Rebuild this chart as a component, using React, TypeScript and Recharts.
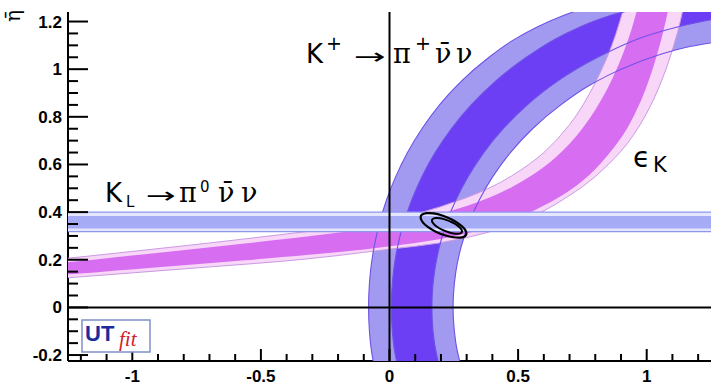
import React from 'react';
import { ComposedChart, XAxis, YAxis, Scatter } from 'recharts';

type Pt = { x: number; y: number };

// ---------- axis ticks ----------
const xLabelTicks = [-1, -0.5, 0, 0.5, 1];
const xMinorTicks = [-1.2, -1.1, -0.9, -0.8, -0.7, -0.6, -0.4, -0.3, -0.2, -0.1, 0.1, 0.2, 0.3, 0.4, 0.6, 0.7, 0.8, 0.9, 1.1, 1.2];
const yLabelTicks = [-0.2, 0, 0.2, 0.4, 0.6, 0.8, 1, 1.2];
const yMinorTicks = [-0.15, -0.1, -0.05, 0.05, 0.1, 0.15, 0.25, 0.3, 0.35, 0.45, 0.5, 0.55, 0.65, 0.7, 0.75, 0.85, 0.9, 0.95, 1.05, 1.1, 1.15];
const X_DOMAIN: [number, number] = [-1.25, 1.25];
const Y_DOMAIN: [number, number] = [-0.225, 1.24];

// ---------- K+ -> pi+ nu nu band (boundaries) ----------
const kpOuterLeft: Pt[] = [
  { x: -0.04, y: -0.35 }, { x: -0.069, y: -0.2 }, { x: -0.079, y: -0.1 }, { x: -0.082, y: 0 },
  { x: -0.079, y: 0.1 }, { x: -0.069, y: 0.2 }, { x: -0.052, y: 0.3 }, { x: -0.028, y: 0.4 },
  { x: 0.004, y: 0.5 }, { x: 0.045, y: 0.6 }, { x: 0.095, y: 0.7 }, { x: 0.157, y: 0.8 },
  { x: 0.232, y: 0.9 }, { x: 0.327, y: 1.0 }, { x: 0.447, y: 1.1 }, { x: 0.524, y: 1.15 },
  { x: 0.617, y: 1.2 }, { x: 0.735, y: 1.25 }, { x: 0.9, y: 1.3 },
];
const kpOuterRight: Pt[] = [
  { x: 1.466, y: 1.13 }, { x: 1.305, y: 1.12 }, { x: 1.187, y: 1.1 }, { x: 1.107, y: 1.08 },
  { x: 1.015, y: 1.05 }, { x: 0.898, y: 1.0 }, { x: 0.805, y: 0.95 }, { x: 0.728, y: 0.9 },
  { x: 0.604, y: 0.8 }, { x: 0.508, y: 0.7 }, { x: 0.432, y: 0.6 }, { x: 0.372, y: 0.5 },
  { x: 0.325, y: 0.4 }, { x: 0.29, y: 0.3 }, { x: 0.265, y: 0.2 }, { x: 0.251, y: 0.1 },
  { x: 0.246, y: 0 }, { x: 0.251, y: -0.1 }, { x: 0.265, y: -0.2 }, { x: 0.306, y: -0.35 },
];
const kpInnerLeft: Pt[] = [
  { x: 0.053, y: -0.35 }, { x: 0.021, y: -0.2 }, { x: 0.01, y: -0.1 }, { x: 0.006, y: 0 },
  { x: 0.01, y: 0.1 }, { x: 0.021, y: 0.2 }, { x: 0.04, y: 0.3 }, { x: 0.068, y: 0.4 },
  { x: 0.104, y: 0.5 }, { x: 0.149, y: 0.6 }, { x: 0.206, y: 0.7 }, { x: 0.275, y: 0.8 },
  { x: 0.36, y: 0.9 }, { x: 0.465, y: 1.0 }, { x: 0.599, y: 1.1 }, { x: 0.684, y: 1.15 },
  { x: 0.788, y: 1.2 }, { x: 0.927, y: 1.25 }, { x: 1.276, y: 1.3 },
];
const kpInnerRight: Pt[] = [
  { x: 1.494, y: 1.23 }, { x: 1.325, y: 1.22 }, { x: 1.202, y: 1.2 }, { x: 1.022, y: 1.15 },
  { x: 0.899, y: 1.1 }, { x: 0.72, y: 1.0 }, { x: 0.587, y: 0.9 }, { x: 0.484, y: 0.8 },
  { x: 0.4, y: 0.7 }, { x: 0.333, y: 0.6 }, { x: 0.279, y: 0.5 }, { x: 0.236, y: 0.4 },
  { x: 0.204, y: 0.3 }, { x: 0.182, y: 0.2 }, { x: 0.168, y: 0.1 }, { x: 0.164, y: 0 },
  { x: 0.168, y: -0.1 }, { x: 0.182, y: -0.2 }, { x: 0.219, y: -0.35 },
];
const kpCorner: Pt[] = [{ x: 1.6, y: 1.3 }];

// ---------- epsilon_K band ----------
const ekOuterTop: Pt[] = [
  { x: -1.4, y: 0.192 }, { x: -1.25, y: 0.206 }, { x: -1.0, y: 0.235 }, { x: -0.7, y: 0.27 },
  { x: -0.426, y: 0.305 }, { x: -0.2, y: 0.334 }, { x: 0, y: 0.362 }, { x: 0.2, y: 0.42 },
  { x: 0.4, y: 0.502 }, { x: 0.55, y: 0.602 }, { x: 0.65, y: 0.698 }, { x: 0.75, y: 0.836 },
  { x: 0.85, y: 1.05 }, { x: 0.908, y: 1.238 }, { x: 0.95, y: 1.427 }, { x: 1.0, y: 1.7 },
];
const ekInnerTop: Pt[] = [
  { x: -1.4, y: 0.175 }, { x: -1.25, y: 0.189 }, { x: -1.0, y: 0.218 }, { x: -0.7, y: 0.252 },
  { x: -0.426, y: 0.285 }, { x: -0.2, y: 0.313 }, { x: 0, y: 0.34 }, { x: 0.2, y: 0.39 },
  { x: 0.4, y: 0.461 }, { x: 0.55, y: 0.548 }, { x: 0.65, y: 0.63 }, { x: 0.752, y: 0.747 },
  { x: 0.85, y: 0.915 }, { x: 0.92, y: 1.094 }, { x: 0.961, y: 1.238 }, { x: 1.0, y: 1.417 },
  { x: 1.05, y: 1.7 },
];
const ekInnerBottom: Pt[] = [
  { x: -1.4, y: 0.131 }, { x: -1.25, y: 0.138 }, { x: -1.0, y: 0.16 }, { x: -0.7, y: 0.185 },
  { x: -0.426, y: 0.21 }, { x: -0.2, y: 0.232 }, { x: 0, y: 0.255 }, { x: 0.2, y: 0.285 },
  { x: 0.4, y: 0.336 }, { x: 0.55, y: 0.396 }, { x: 0.7, y: 0.486 }, { x: 0.8, y: 0.575 },
  { x: 0.9, y: 0.707 }, { x: 0.95, y: 0.8 }, { x: 1.0, y: 0.923 }, { x: 1.05, y: 1.092 },
  { x: 1.082, y: 1.238 }, { x: 1.1, y: 1.339 }, { x: 1.15, y: 1.7 },
];
const ekOuterBottom: Pt[] = [
  { x: -1.4, y: 0.117 }, { x: -1.25, y: 0.124 }, { x: -1.0, y: 0.145 }, { x: -0.7, y: 0.17 },
  { x: -0.426, y: 0.192 }, { x: -0.2, y: 0.217 }, { x: 0, y: 0.245 }, { x: 0.2, y: 0.268 },
  { x: 0.4, y: 0.318 }, { x: 0.55, y: 0.372 }, { x: 0.7, y: 0.468 }, { x: 0.8, y: 0.545 },
  { x: 0.9, y: 0.653 }, { x: 0.95, y: 0.724 }, { x: 1.0, y: 0.812 }, { x: 1.05, y: 0.925 },
  { x: 1.1, y: 1.075 }, { x: 1.14, y: 1.234 }, { x: 1.2, y: 1.587 },
];

// ---------- K_L -> pi0 nu nu band ----------
const klOuter = { low: 0.318, high: 0.4 };
const klInner = { low: 0.331, high: 0.384 };
const klSpan = { from: -1.4, to: 1.4 };

// ---------- fit contours ----------
const fitOuter: Pt[] = [
  { x: 0.3, y: 0.305 }, { x: 0.288, y: 0.294 }, { x: 0.264, y: 0.292 }, { x: 0.233, y: 0.297 },
  { x: 0.197, y: 0.309 }, { x: 0.163, y: 0.327 }, { x: 0.137, y: 0.347 }, { x: 0.122, y: 0.367 },
  { x: 0.12, y: 0.384 }, { x: 0.132, y: 0.394 }, { x: 0.156, y: 0.397 }, { x: 0.187, y: 0.392 },
  { x: 0.223, y: 0.379 }, { x: 0.257, y: 0.361 }, { x: 0.283, y: 0.341 }, { x: 0.298, y: 0.321 },
];
const fitInner: Pt[] = [
  { x: 0.283, y: 0.316 }, { x: 0.276, y: 0.31 }, { x: 0.26, y: 0.308 }, { x: 0.239, y: 0.312 },
  { x: 0.215, y: 0.321 }, { x: 0.193, y: 0.332 }, { x: 0.176, y: 0.345 }, { x: 0.166, y: 0.358 },
  { x: 0.164, y: 0.368 }, { x: 0.172, y: 0.374 }, { x: 0.187, y: 0.376 }, { x: 0.208, y: 0.372 },
  { x: 0.232, y: 0.363 }, { x: 0.254, y: 0.352 }, { x: 0.271, y: 0.339 }, { x: 0.281, y: 0.326 },
];

// ---------- derived tables for the library ----------
const kpLightPoly = [...kpOuterLeft, ...kpCorner, ...kpOuterRight];
const kpDarkPoly = [...kpInnerLeft, ...kpCorner, ...kpInnerRight];
const ekLightPoly = [...ekOuterTop, ...[...ekOuterBottom].reverse()];
const ekDarkPoly = [...ekInnerTop, ...[...ekInnerBottom].reverse()];
const rect = (b: { low: number; high: number }): Pt[] => [
  { x: klSpan.from, y: b.low }, { x: klSpan.to, y: b.low },
  { x: klSpan.to, y: b.high }, { x: klSpan.from, y: b.high },
];
const klOuterPoly = rect(klOuter);
const klInnerPoly = rect(klInner);
const axisAnchors: Pt[] = [{ x: -1.4, y: -0.4 }, { x: 1.4, y: 1.4 }];
const xAllTicks = [...xLabelTicks, ...xMinorTicks].sort((a, b) => a - b);
const yAllTicks = [...yLabelTicks, ...yMinorTicks].sort((a, b) => a - b);

// ---------- path helpers (pixel points come from the chart scales) ----------
const smoothClosed = (pts: Pt[]) => {
  const n = pts.length;
  const mid = (a: Pt, b: Pt) => `${(a.x + b.x) / 2},${(a.y + b.y) / 2}`;
  let d = `M${mid(pts[n - 1], pts[0])}`;
  for (let i = 0; i < n; i++) {
    const p = pts[i];
    const q = pts[(i + 1) % n];
    d += `Q${p.x},${p.y} ${mid(p, q)}`;
  }
  return d + 'Z';
};
const linear = (pts: Pt[], closed: boolean) =>
  'M' + pts.map((p) => `${p.x},${p.y}`).join('L') + (closed ? 'Z' : '');

const split = (pts: Pt[], parts: Pt[][]) => {
  const out: Pt[][] = [];
  let i = 0;
  parts.forEach((part) => {
    out.push(pts.slice(i, i + part.length));
    i += part.length;
  });
  return out;
};

const renderOverlay = (pix: Pt[][]) => {
  const [anc, fo, fi] = pix;
  const [a, b] = anc;
  const sx = (b.x - a.x) / (axisAnchors[1].x - axisAnchors[0].x);
  const sy = (b.y - a.y) / (axisAnchors[1].y - axisAnchors[0].y);
  const X = (v: number) => a.x + (v - axisAnchors[0].x) * sx;
  const Y = (v: number) => a.y + (v - axisAnchors[0].y) * sy;
  const k = { stroke: '#000', strokeWidth: 2 };
  return (
    <g>
      <line x1={X(0)} x2={X(0)} y1={a.y} y2={b.y} {...k} />
      <line x1={a.x} x2={b.x} y1={Y(0)} y2={Y(0)} {...k} />
      <path d={smoothClosed(fo)} fill="none" stroke="#000" strokeWidth={2.2} />
      <path d={smoothClosed(fi)} fill="none" stroke="#000" strokeWidth={2} />
    </g>
  );
};

const noShape = () => <g />;

const layer = (id: string, parts: Pt[][], render: (pix: Pt[][]) => React.ReactElement) => (
  <Scatter
    key={id}
    name={id}
    data={parts.flat()}
    shape={noShape}
    isAnimationActive={false}
    legendType="none"
    line={(lp: any) => render(split(lp.points as Pt[], parts))}
  />
);

const SANS = '"DejaVu Sans", sans-serif';
const SERIF = '"DejaVu Serif", serif';
const TICK_FONT = '"Liberation Sans", Arial, sans-serif';
const X_TICK_MARGIN = 9;
const Y_TICK_MARGIN = 6;

const XTick = (props: any) => {
  const { x, y, payload } = props;
  const v = payload.value as number;
  const major = xLabelTicks.includes(v);
  const axisY = y - X_TICK_MARGIN;
  return (
    <g>
      <line x1={x} x2={x} y1={axisY} y2={axisY - (major ? 12 : 7)} stroke="#000" strokeWidth={2} />
      {major && (
        <text x={x} y={y} dy="0.71em" textAnchor="middle" fill="#000" fontSize={17} fontWeight={700} fontFamily={TICK_FONT}>
          {String(v)}
        </text>
      )}
    </g>
  );
};

const YTick = (props: any) => {
  const { x, y, payload } = props;
  const v = payload.value as number;
  const major = yLabelTicks.includes(v);
  const axisX = x + Y_TICK_MARGIN;
  return (
    <g>
      <line x1={axisX} x2={axisX + (major ? 20 : 10)} y1={y} y2={y} stroke="#000" strokeWidth={2} />
      {major && (
        <text x={x} y={y} dy="0.355em" textAnchor="end" fill="#000" fontSize={17} fontWeight={700} fontFamily={TICK_FONT}>
          {String(v)}
        </text>
      )}
    </g>
  );
};

const frameLine = { stroke: '#000', strokeWidth: 2 };

export default function App() {
  return (
    <div style={{ position: 'absolute', left: 0, top: 0, width: 712, height: 386, background: '#fff' }}>
      <ComposedChart width={712} height={386} margin={{ top: 12, right: 1, bottom: 0, left: 0 }}>
        {layer('kpLight', [kpLightPoly], ([p]) => <path d={smoothClosed(p)} fill="#a29af1" stroke="none" />)}
        {layer('kpDark', [kpDarkPoly], ([p]) => <path d={smoothClosed(p)} fill="#6d3ff4" stroke="none" />)}
        {layer('ekLight', [ekLightPoly], ([p]) => <path d={smoothClosed(p)} fill="#f7d6f7" stroke="#c99be4" strokeWidth={1} />)}
        {layer('ekDark', [ekDarkPoly], ([p]) => <path d={smoothClosed(p)} fill="#d76df1" stroke="none" />)}
        {layer('kpLines', [kpLightPoly, kpDarkPoly], ([o, i]) => (
          <g>
            <path d={smoothClosed(o)} fill="none" stroke="#6f52e6" strokeWidth={1.1} />
            <path d={smoothClosed(i)} fill="none" stroke="#6f52e6" strokeWidth={1.1} />
          </g>
        ))}
        {layer('klBand', [klOuterPoly, klInnerPoly], ([o, i]) => (
          <g>
            <path d={linear(o, true)} fill="#e3e6fd" stroke="#8e96ee" strokeWidth={1.3} />
            <path d={linear(i, true)} fill="#a5abf5" stroke="none" />
          </g>
        ))}
        {layer('overlay', [axisAnchors, fitOuter, fitInner], renderOverlay)}
        <XAxis
          type="number"
          dataKey="x"
          domain={X_DOMAIN}
          allowDataOverflow
          ticks={xAllTicks}
          interval={0}
          tickLine={false}
          axisLine={frameLine}
          tickSize={0}
          tickMargin={X_TICK_MARGIN}
          height={25}
          tick={<XTick />}
        />
        <YAxis
          type="number"
          dataKey="y"
          domain={Y_DOMAIN}
          allowDataOverflow
          ticks={yAllTicks}
          interval={0}
          tickLine={false}
          axisLine={frameLine}
          tickSize={0}
          tickMargin={Y_TICK_MARGIN}
          width={68}
          tick={<YTick />}
        />
        <XAxis
          xAxisId="top"
          orientation="top"
          type="number"
          domain={X_DOMAIN}
          allowDataOverflow
          height={0}
          tick={false}
          tickLine={false}
          axisLine={frameLine}
        />
        <YAxis
          yAxisId="right"
          orientation="right"
          type="number"
          domain={Y_DOMAIN}
          allowDataOverflow
          width={0}
          tick={false}
          tickLine={false}
          axisLine={frameLine}
        />
      </ComposedChart>
      <svg width={712} height={386} style={{ position: 'absolute', left: 0, top: 0, pointerEvents: 'none' }}>
        <text transform="translate(20,16) rotate(-90)" textAnchor="middle" fontSize={20} fontFamily={SERIF}>η̄</text>

        <text x={306} y={63} fontSize={26} fontFamily={SANS}>K</text>
        <text x={326} y={50} fontSize={19} fontFamily={SANS}>+</text>
        <text x={354} y={64} fontSize={22} fontFamily={SANS} textLength={32} lengthAdjust="spacingAndGlyphs">→</text>
        <text x={393} y={63} fontSize={27} fontFamily={SERIF}>π</text>
        <text x={415} y={50} fontSize={19} fontFamily={SANS}>+</text>
        <text x={435} y={63} fontSize={27} fontFamily={SERIF}>ν̄</text>
        <text x={456} y={63} fontSize={27} fontFamily={SERIF}>ν</text>

        <text x={105} y={202} fontSize={26} fontFamily={SANS}>K</text>
        <text x={126} y={207} fontSize={15} fontFamily={SANS}>L</text>
        <text x={146} y={203} fontSize={22} fontFamily={SANS} textLength={30} lengthAdjust="spacingAndGlyphs">→</text>
        <text x={179} y={202} fontSize={27} fontFamily={SERIF}>π</text>
        <text x={200} y={192} fontSize={15} fontFamily={SANS}>0</text>
        <text x={218} y={202} fontSize={27} fontFamily={SERIF}>ν̄</text>
        <text x={241} y={202} fontSize={27} fontFamily={SERIF}>ν</text>

        <text x={633} y={167} fontSize={28} fontFamily={SANS}>ϵ</text>
        <text x={653} y={172} fontSize={21} fontFamily={SANS}>K</text>

        <rect x={82} y={320} width={68} height={32} fill="#fff" stroke="#8190c8" strokeWidth={1.5} />
        <text x={85} y={341} fontSize={22} fontWeight={700} fontFamily={TICK_FONT} fill="#1c2c9c">UT</text>
        <text x={119} y={346} fontSize={21} fontStyle="italic" fontFamily='"Liberation Serif", serif' fill="#d3202b">fit</text>
      </svg>
    </div>
  );
}
